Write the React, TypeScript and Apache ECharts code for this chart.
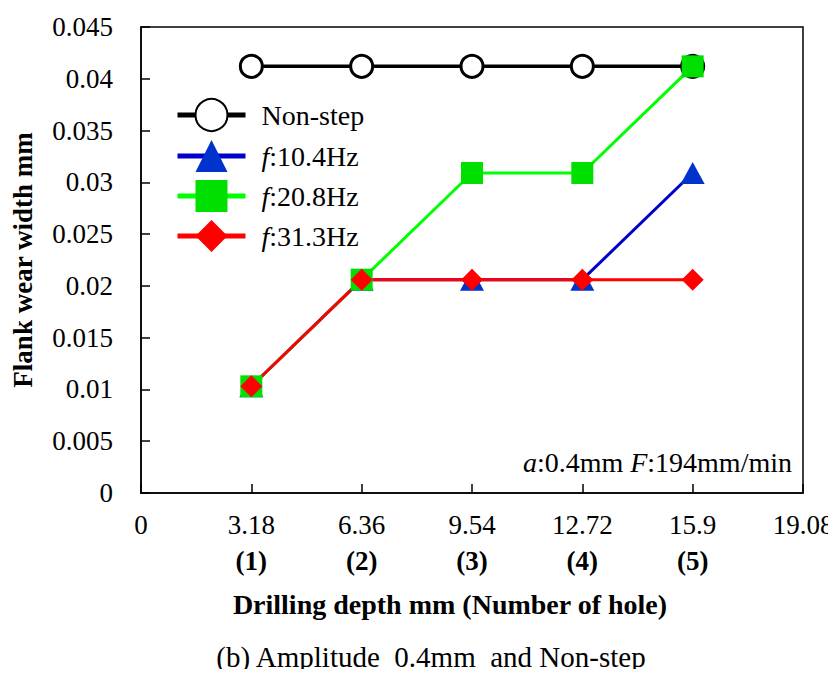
import React, { useEffect, useRef } from "react";
import * as echarts from "echarts";

const depths = [3.18, 6.36, 9.54, 12.72, 15.9];
const xTickLabels = ["0", "3.18", "6.36", "9.54", "12.72", "15.9", "19.08"];
const holeLabels = ["", "(1)", "(2)", "(3)", "(4)", "(5)", ""];
const nonStep = [0.0412, 0.0412, 0.0412, 0.0412, 0.0412];
const f104 = [0.0103, 0.0206, 0.0206, 0.0206, 0.0309];
const f208 = [0.0103, 0.0206, 0.0309, 0.0309, 0.0412];
const f313 = [0.0103, 0.0206, 0.0206, 0.0206, 0.0206];
const seriesNames = ["Non-step", "f:10.4Hz", "f:20.8Hz", "f:31.3Hz"];

const FONT = "'Liberation Serif', 'Times New Roman', serif";

function pairs(vals: number[]) {
  return depths.map((d, i) => [d, vals[i]]);
}

export default function App() {
  const ref = useRef<HTMLDivElement>(null);
  useEffect(() => {
    if (!ref.current) return;
    const chart = echarts.init(ref.current, undefined, { renderer: "svg" });
    const option: any = {
      animation: false,
      backgroundColor: "#fff",
      textStyle: { fontFamily: FONT },
      grid: {
        left: 141,
        top: 27,
        right: 33,
        bottom: 184,
        show: true,
        borderColor: "#000",
        borderWidth: 1.5,
        containLabel: false,
        outerBoundsMode: "none",
      },
      legend: {
        orient: "vertical",
        left: 175,
        top: 98,
        padding: 0,
        itemWidth: 68,
        itemHeight: 40,
        itemGap: 8,
        lineStyle: { width: 5 },
        data: seriesNames,
        formatter: (name: string) =>
          name.startsWith("f:") ? `{i|f}{n|${name.slice(1)}}` : `{n|${name}}`,
        textStyle: {
          fontFamily: FONT,
          fontSize: 28,
          color: "#000",
          padding: [0, 0, 0, 11],
          rich: {
            i: { fontFamily: FONT, fontSize: 28, fontStyle: "italic", color: "#000" },
            n: { fontFamily: FONT, fontSize: 28, color: "#000" },
          },
        },
      },
      xAxis: {
        type: "value",
        min: 0,
        max: 19.08,
        interval: 3.18,
        axisLine: { show: true, lineStyle: { color: "#000", width: 1.5 } },
        axisTick: { show: true, inside: true, length: 9, lineStyle: { color: "#000", width: 1.5 } },
        splitLine: { show: false },
        axisLabel: {
          margin: 14,
          color: "#000",
          fontFamily: FONT,
          fontSize: 27,
          formatter: (v: number) => {
            const idx = Math.round(v / 3.18);
            const t = xTickLabels[idx] ?? "";
            const h = holeLabels[idx] ?? "";
            return h ? `{v|${t}}\n{h|${h}}` : `{v|${t}}`;
          },
          rich: {
            v: { fontFamily: FONT, fontSize: 27, color: "#000", lineHeight: 36 },
            h: { fontFamily: FONT, fontSize: 27, fontWeight: "bold", color: "#000", lineHeight: 36 },
          },
        },
      },
      yAxis: {
        type: "value",
        min: 0,
        max: 0.045,
        interval: 0.005,
        name: "Flank wear width mm",
        nameLocation: "middle",
        nameRotate: 90,
        nameGap: 105,
        nameTextStyle: { fontFamily: FONT, fontSize: 27, fontWeight: "bold", color: "#000" },
        axisLine: { show: true, lineStyle: { color: "#000", width: 1.5 } },
        axisTick: { show: true, inside: true, length: 9, lineStyle: { color: "#000", width: 1.5 } },
        splitLine: { show: false },
        axisLabel: {
          margin: 28,
          color: "#000",
          fontFamily: FONT,
          fontSize: 27,
          formatter: (v: number) => String(parseFloat(v.toFixed(3))),
        },
      },
      graphic: [
        {
          type: "text",
          x: 450,
          y: 604,
          style: {
            text: "Drilling depth mm (Number of hole)",
            font: `bold 28px ${FONT}`,
            fill: "#000",
            textAlign: "center",
            textVerticalAlign: "middle",
          },
        },
        {
          type: "text",
          x: 431,
          y: 657,
          style: {
            text: "(b) Amplitude  0.4mm  and Non-step",
            font: `29px ${FONT}`,
            fill: "#000",
            textAlign: "center",
            textVerticalAlign: "middle",
          },
        },
        {
          type: "text",
          x: 792,
          y: 462,
          style: {
            text: "{i|a}{n|:0.4mm }{i|F}{n|:194mm/min}",
            textAlign: "right",
            textVerticalAlign: "middle",
            rich: {
              i: { fontFamily: FONT, fontSize: 28, fontStyle: "italic", fill: "#000" },
              n: { fontFamily: FONT, fontSize: 28, fill: "#000" },
            },
          },
        },
      ],
      series: [
        {
          name: seriesNames[0],
          type: "line",
          data: pairs(nonStep),
          symbol: "circle",
          symbolSize: 22,
          lineStyle: { color: "#000", width: 3.5 },
          itemStyle: { color: "#fff", borderColor: "#000", borderWidth: 3 },
        },
        {
          name: seriesNames[1],
          type: "line",
          data: pairs(f104),
          symbol: "triangle",
          symbolSize: [24, 22],
          lineStyle: { color: "#0000CC", width: 3 },
          itemStyle: { color: "#0033CC", borderColor: "#0033CC", borderWidth: 0 },
        },
        {
          name: seriesNames[2],
          type: "line",
          data: pairs(f208),
          symbol: "rect",
          symbolSize: 22,
          lineStyle: { color: "#00FF00", width: 3 },
          itemStyle: { color: "#00E000", borderWidth: 0 },
        },
        {
          name: seriesNames[3],
          type: "line",
          data: pairs(f313),
          symbol: "diamond",
          symbolSize: 22,
          lineStyle: { color: "#FF0000", width: 3 },
          itemStyle: { color: "#FF0000", borderWidth: 0 },
        },
      ],
    };
    chart.setOption(option);
    return () => chart.dispose();
  }, []);
  return <div ref={ref} style={{ width: 836, height: 677, margin: -8 }} />;
}
